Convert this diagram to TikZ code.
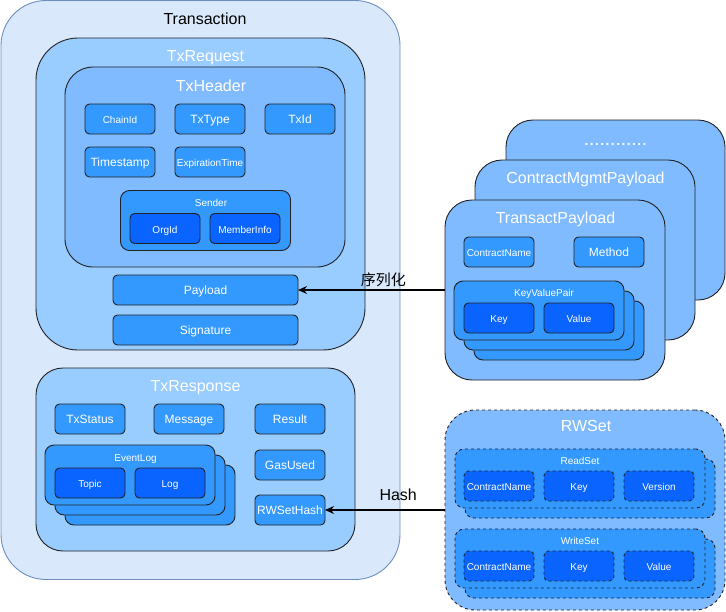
\documentclass[tikz,border=0pt]{standalone}
\usepackage{fontspec}
\setmainfont{Liberation Sans}
\newfontfamily\cjkfont{Noto Sans CJK SC}
\usepackage{xcolor}
\usetikzlibrary{arrows.meta, positioning}

\definecolor{txbg}{HTML}{DAE8FC}
\definecolor{txline}{HTML}{6C8EBF}
\definecolor{reqbg}{HTML}{99CCFF}
\definecolor{hdrbg}{HTML}{80BAFF}
\definecolor{fieldbg}{HTML}{3399FF}
\definecolor{deepbg}{HTML}{0A64FF}
\definecolor{boxline}{HTML}{222222}

\begin{document}
\begin{tikzpicture}[x=1pt, y=-1pt,
    panel/.style={draw=boxline, line width=0.9pt, outer sep=0pt, inner sep=0pt},
    field/.style={panel, fill=fieldbg, rounded corners=4.5pt, minimum width=70pt,
        minimum height=30pt, text=white, font=\fontsize{12}{14}\selectfont,
        text height=0.96em, text depth=0pt},
    fieldsm/.style={field, font=\fontsize{10}{12}\selectfont},
    deep/.style={fieldsm, fill=deepbg},
    group/.style={panel, fill=fieldbg, rounded corners=9pt, minimum width=170pt, minimum height=60pt},
    title/.style={text=white, font=\fontsize{16}{19}\selectfont, inner sep=0pt,
        text height=0.96em, text depth=0pt},
    subtitle/.style={title, font=\fontsize{10}{12}\selectfont},
    link/.style={line width=1.2pt, -{Stealth[length=9pt, width=8pt]}}]
    \useasboundingbox (0,0) rectangle (726,611);

    % Transaction
    \node[panel, draw=txline, fill=txbg, rounded corners=45pt,
        minimum width=399pt, minimum height=579pt] (tx) at (200.5,290) {};
    \node[title, text=black] (txtitle) at (205,19.5) {Transaction};

    % TxRequest
    \node[panel, fill=reqbg, rounded corners=42pt,
        minimum width=329pt, minimum height=312pt] (txrequest) at (200.5,194) {};
    \node[title] (reqtitle) at (205.5,56.5) {TxRequest};
    \node[panel, fill=hdrbg, rounded corners=28pt,
        minimum width=280pt, minimum height=200pt] (txheader) at (205,167) {};
    \node[title] (hdrtitle) at (211,86.5) {TxHeader};
    \node[fieldsm] (chainid) at (120,119) {ChainId};
    \node[field] (txtype) at (210,119) {TxType};
    \node[field] (txid) at (300,119) {TxId};
    \node[field] (timestamp) at (120,162) {Timestamp};
    \node[fieldsm] (exptime) at (210,162) {ExpirationTime};
    \node[group] (sender) at (205.5,220.5) {};
    \node[subtitle] (sendertitle) at (211,202) {Sender};
    \node[deep] (orgid) at (165,228.5) {OrgId};
    \node[deep] (memberinfo) at (245,228.5) {MemberInfo};
    \node[field, minimum width=185pt] (payload) at (205.5,290) {Payload};
    \node[field, minimum width=185pt] (signature) at (205.5,330) {Signature};

    % TxResponse
    \node[panel, fill=reqbg, rounded corners=27pt,
        minimum width=319pt, minimum height=183pt] (txresponse) at (195.5,459.5) {};
    \node[title] (resptitle) at (195.5,387) {TxResponse};
    \node[field] (txstatus) at (90,419) {TxStatus};
    \node[field] (message) at (189,419) {Message};
    \node[field] (result) at (290,419) {Result};
    \node[field] (gasused) at (290,465) {GasUsed};
    \node[field] (rwsethash) at (290,510) {RWSetHash};
    \node[group] (eventlog3) at (150,495) {};
    \node[group] (eventlog2) at (140,485) {};
    \node[group] (eventlog) at (130,475) {};
    \node[subtitle] (eventtitle) at (135.5,457) {EventLog};
    \node[deep] (topic) at (90,483) {Topic};
    \node[deep] (log) at (170,483) {Log};

    % Payload types
    \node[panel, fill=hdrbg, rounded corners=27pt,
        minimum width=219pt, minimum height=180pt] (morepayload) at (615.5,210) {};
    \node[title, font=\fontsize{19}{22}\selectfont, anchor=base] (moretitle) at (615.5,145.5) {............};
    \node[panel, fill=hdrbg, rounded corners=27pt,
        minimum width=220pt, minimum height=180pt] (mgmtpayload) at (585,250) {};
    \node[title] (mgmttitle) at (585.5,179) {ContractMgmtPayload};
    \node[panel, fill=hdrbg, rounded corners=27pt,
        minimum width=220pt, minimum height=180pt] (transact) at (555,290) {};
    \node[title] (transacttitle) at (555.5,219) {TransactPayload};
    \node[fieldsm] (contractname) at (499,252) {ContractName};
    \node[field] (method) at (609,252) {Method};
    \node[group, minimum height=59pt] (kvpair3) at (559,330.5) {};
    \node[group, minimum height=59pt] (kvpair2) at (549,320.5) {};
    \node[group, minimum height=59pt] (kvpair) at (539,310.5) {};
    \node[subtitle] (kvtitle) at (544,292) {KeyValuePair};
    \node[deep] (key) at (499,318) {Key};
    \node[deep] (value) at (579,318) {Value};

    % RWSet
    \node[panel, dashed, fill=hdrbg, rounded corners=30pt,
        minimum width=280pt, minimum height=200pt] (rwset) at (585,510) {};
    \node[title] (rwtitle) at (586,427) {RWSet};
    \node[group, dashed, minimum width=250pt, minimum height=59pt] (readset2) at (590,488.5) {};
    \node[group, dashed, minimum width=250pt, minimum height=59pt] (readset) at (580,478.5) {};
    \node[subtitle] (readtitle) at (580,459.5) {ReadSet};
    \node[deep, dashed] (rcontract) at (499,486) {ContractName};
    \node[deep, dashed] (rkey) at (579,486) {Key};
    \node[deep, dashed] (rversion) at (659,486) {Version};
    \node[group, dashed, minimum width=250pt, minimum height=59pt] (writeset2) at (590,568.5) {};
    \node[group, dashed, minimum width=250pt, minimum height=59pt] (writeset) at (580,558.5) {};
    \node[subtitle] (writetitle) at (580,539.5) {WriteSet};
    \node[deep, dashed] (wcontract) at (499,566) {ContractName};
    \node[deep, dashed] (wkey) at (579,566) {Key};
    \node[deep, dashed] (wvalue) at (659,566) {Value};

    % Arrows
    \draw[link] (transact.west) -- node[pos=0.42, above, inner sep=3pt,
        font=\cjkfont\fontsize{15}{18}\selectfont] (serial) {序列化} (payload.east);
    \draw[link] (rwset.west) -- node[pos=0.39, above, inner sep=9pt,
        font=\fontsize{16}{19}\selectfont] (hash) {Hash} (rwsethash.east);
\end{tikzpicture}
\end{document}
